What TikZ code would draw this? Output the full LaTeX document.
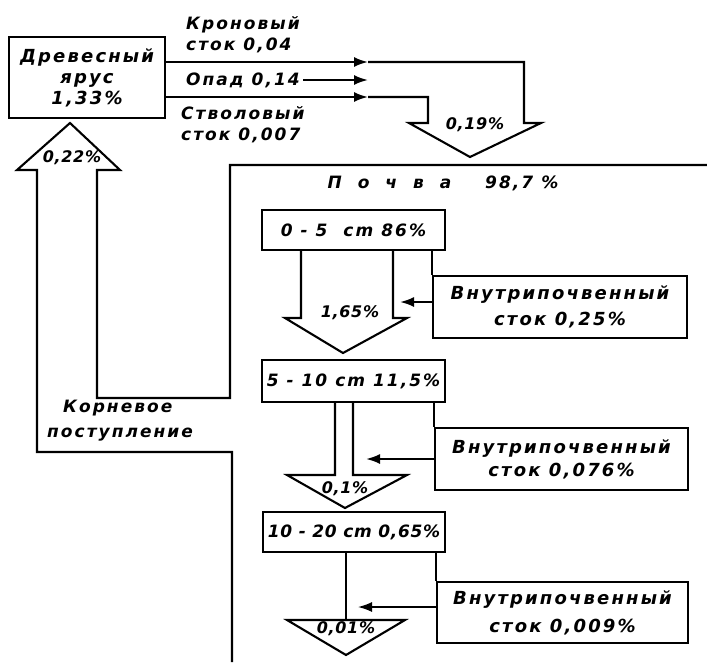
\documentclass[tikz,border=0pt]{standalone}
\usepackage{fontspec}
\newfontfamily\hand[LetterSpace=12]{DejaVu Sans}
\newfontfamily\handn[LetterSpace=4]{DejaVu Sans}
\usetikzlibrary{arrows.meta}
\begin{document}
\begin{tikzpicture}[x=1pt,y=-1pt,
 box/.style={draw,line width=2.1pt,inner sep=0pt,align=center},
 lbl/.style={font=\hand\bfseries\itshape\fontsize{17}{21}\selectfont, inner sep=0pt, align=left},
 sm/.style={font=\handn\bfseries\itshape\fontsize{16}{18}\selectfont, inner sep=0pt},
 ln/.style={line width=2.1pt, line join=miter},
 thin/.style={line width=1.5pt},
 arr/.style={ln,-{Latex[length=14pt,width=10pt]}}
]
\useasboundingbox (0,0) rectangle (707,662);

% boxes
\node[box,minimum width=156pt,minimum height=81pt,font=\hand\bfseries\itshape\fontsize{18}{21}\selectfont] (tree) at (87,77.5) {Древесный\\ярус\\1,33\%};
\node[box,minimum width=183pt,minimum height=40pt,font=\hand\bfseries\itshape\fontsize{17}{20}\selectfont] (b05) at (353.5,230) {0 - 5\ \ cm 86\%};
\node[box,minimum width=183pt,minimum height=42pt,font=\hand\bfseries\itshape\fontsize{17}{20}\selectfont] (b510) at (353.5,381) {5 - 10 cm 11,5\%};
\node[box,minimum width=182pt,minimum height=40pt,font=\handn\bfseries\itshape\fontsize{17}{20}\selectfont] (b1020) at (354,532) {10 - 20 cm 0,65\%};
\node[box,minimum width=254pt,minimum height=62pt,font=\hand\bfseries\itshape\fontsize{18}{26}\selectfont] (vn1) at (560,307) {Внутрипочвенный\\сток 0,25\%};
\node[box,minimum width=253pt,minimum height=62pt,font=\hand\bfseries\itshape\fontsize{18}{23}\selectfont] (vn2) at (561.5,459) {Внутрипочвенный\\сток 0,076\%};
\node[box,minimum width=251pt,minimum height=61pt,font=\hand\bfseries\itshape\fontsize{18}{28}\selectfont] (vn3) at (562.5,612.5) {Внутрипочвенный\\сток 0,009\%};

% labels of the top flows
\node[lbl,anchor=west] (kron) at (186,35) {Кроновый\\сток 0,04};
\node[lbl,anchor=west] (opad) at (186,80) {Опад 0,14};
\node[lbl,anchor=west] (stv) at (181,125) {Стволовый\\сток 0,007};

% top flows
\coordinate (k1) at (tree.east |- 0,62);
\coordinate (s1) at (tree.east |- 0,97);
\coordinate (ktip) at (368,62);
\coordinate (stip) at (368,97);
\coordinate (otip) at (368,80);
\coordinate (o1) at (303,80);
\draw[arr] (k1) -- (ktip);
\draw[arr] (o1) -- (otip);
\draw[arr] (s1) -- (stip);
% big arrow 0,19%
\draw[ln] (ktip) -- (524,62) -- (524,123) -- (541,123) -- (470,157) -- (409,123) -- (428,123) -- (428,97) -- (stip);
\node[sm] (p019) at (475,125) {0,19\%};

% soil outline and root uptake arrow 0,22%
\draw[ln] (707,165) -- (230,165) -- (230,398) -- (97,398) -- (97,170) -- (120,170) -- (70,123) -- (17,170) -- (37,170) -- (37,452) -- (232,452) -- (232,662);
\node[sm] (p022) at (72,158) {0,22\%};
\node[lbl,align=left,anchor=north west,font=\hand\bfseries\itshape\fontsize{17}{25}\selectfont] (root) at (47,400) {\ \ Корневое\\поступление};
\node[lbl,font=\hand\bfseries\itshape\fontsize{17}{20}\selectfont] (soil) at (443,183) {П\ \ о\ \ ч\ \ в\ \ а\qquad 98,7 \%};

% arrow 1,65%
\draw[ln] (b05.south -| 301,0) -- (301,318) -- (285,318) -- (343,353) -- (407,318) -- (393,318) -- (b05.south -| 393,0);
\node[sm] (p165) at (350,313) {1,65\%};
% arrow 0,1%
\draw[ln] (b510.south -| 335,0) -- (335,475) -- (287,475) -- (345,508) -- (407,475) -- (353,475) -- (b510.south -| 353,0);
\node[sm] (p01) at (345,489) {0,1\%};
% arrow 0,01%
\draw[thin] (b1020.south -| 346,0) -- (346,620);
\draw[ln] (287,620) -- (405,620) -- (346,655) -- cycle;
\node[sm] (p001) at (346,629) {0,01\%};

% intra-soil runoff connectors
\draw[ln] (b05.south -| vn1.north west) -- (vn1.north west);
\draw[arr] (vn1.west |- 0,302) -- (400,302);
\draw[ln] (b510.south -| vn2.north west) -- (vn2.north west);
\draw[arr] (vn2.west |- 0,459) -- (366,459);
\draw[thin] (b1020.south -| vn3.north west) -- (vn3.north west);
\draw[arr,line width=1.5pt] (vn3.west |- 0,607) -- (358,607);
\end{tikzpicture}
\end{document}
